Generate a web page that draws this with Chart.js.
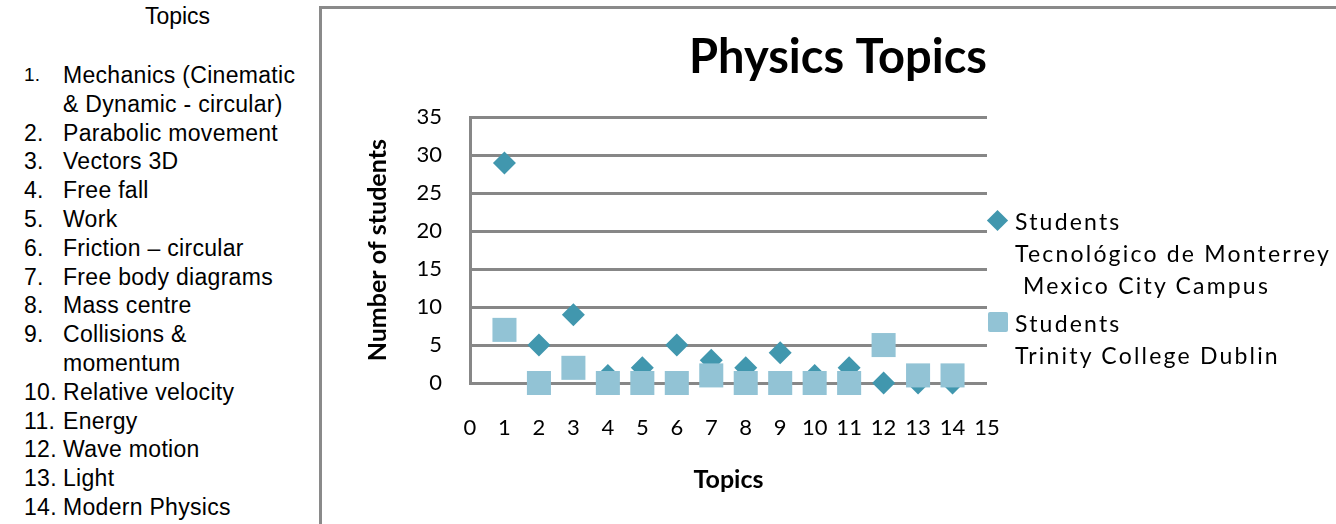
<!DOCTYPE html>
<html>
<head>
<meta charset="utf-8">
<script src="https://cdn.jsdelivr.net/npm/chart.js@4.4.1/dist/chart.umd.min.js"></script>
<style>
  body { margin: 0; background: #fff; }
  #wrap { position: relative; width: 1336px; height: 524px; overflow: hidden; }
  #frame { position: absolute; left: 319px; top: 6px; width: 1100px; height: 600px;
    border-left: 3px solid #8a8a8a; border-top: 3px solid #8a8a8a; }
  #topics { position: absolute; left: 0; top: 0; width: 320px; font-family: "Liberation Sans", Arial, sans-serif; font-size: 23px; color: #000; }
  #topics .head { position: absolute; left: 0; width: 355px; text-align: center; top: 3px; font-size: 23px; }
  #topics ol { position: absolute; left: 0; top: 61px; margin: 0; padding: 0; list-style: none; }
  #topics li { position: relative; padding-left: 63px; line-height: 28.8px; letter-spacing: 0.3px; white-space: nowrap; }
  #topics li span { position: absolute; left: 24px; }
  #topics li span.small { font-size: 19px; }
  #legend { position: absolute; left: 985px; top: 205px; font-family: Lato, sans-serif; font-size: 23px; line-height: 32px; color: #000; letter-spacing: 2.2px; white-space: nowrap; }
  .item { position: relative; padding-left: 30px; }
  .mk { position: absolute; }
  .dia { left: 5px; top: 8px; width: 15px; height: 15px; background: #4197ae; transform: rotate(45deg); }
  .sq { left: 3px; top: 5px; width: 20px; height: 20px; background: #92c3d5; border-radius: 2px; }
  canvas { position: absolute; left: 0; top: 0; }
</style>
</head>
<body>
<div id="wrap">
  <div id="frame"></div>
  <div id="topics">
    <div class="head">Topics</div>
    <ol id="topicList"></ol>
  </div>
  <canvas id="myChart" width="1336" height="524"></canvas>
  <div id="legend">
    <div class="item"><div class="mk dia"></div>Students<br>Tecnológico de Monterrey<br>&nbsp;Mexico City Campus</div>
    <div class="item" style="margin-top:6px"><div class="mk sq"></div>Students<br>Trinity College Dublin</div>
  </div>
</div>
<script>
const topicNames = [
  'Mechanics (Cinematic<br>& Dynamic - circular)',
  'Parabolic movement',
  'Vectors 3D',
  'Free fall',
  'Work',
  'Friction – circular',
  'Free body diagrams',
  'Mass centre',
  'Collisions &amp;<br>momentum',
  'Relative velocity',
  'Energy',
  'Wave motion',
  'Light',
  'Modern Physics'
];
const topicNumbers = [1, 2, 3, 4, 5, 6, 7, 8, 9, 10, 11, 12, 13, 14];
const monterrey = [29, 5, 9, 1, 2, 5, 3, 2, 4, 1, 2, 0, 0, 0];
const trinity = [7, 0, 2, 0, 0, 0, 1, 0, 0, 0, 0, 5, 1, 1];

const GREY = '#878787';
const DARK = '#4197ae';
const LIGHT = '#92c3d5';

const listEl = document.querySelector('#topicList');
topicNames.forEach((name, i) => {
  const li = document.createElement('li');
  const cls = i === 0 ? ' class="small"' : '';
  li.innerHTML = '<span' + cls + '>' + topicNumbers[i] + '.</span>' + name;
  listEl.appendChild(li);
});

const toPoints = (vals) => vals.map((v, i) => ({ x: topicNumbers[i], y: v }));

const ctx = document.getElementById('myChart');
const chart = new Chart(ctx, {
  type: 'scatter',
  data: {
    datasets: [
      {
        label: 'Students Tecnológico de Monterrey Mexico City Campus',
        data: toPoints(monterrey),
        pointStyle: 'rectRot',
        pointRadius: 11.5,
        backgroundColor: DARK,
        borderColor: DARK,
        borderWidth: 0,
        clip: false,
        order: 2
      },
      {
        label: 'Students Trinity College Dublin',
        data: toPoints(trinity),
        pointStyle: 'rect',
        pointRadius: 17,
        backgroundColor: LIGHT,
        borderColor: LIGHT,
        borderWidth: 0,
        clip: false,
        order: 1
      }
    ]
  },
  options: {
    responsive: false,
    animation: false,
    events: [],
    layout: { padding: { left: 350, right: 349, top: 30, bottom: 21 } },
    plugins: {
      legend: { display: false },
      tooltip: { enabled: false },
      title: {
        display: true,
        text: 'Physics Topics',
        align: 'end',
        fullSize: false,
        color: '#000',
        font: { family: 'Lato', size: 47, weight: 'bold' },
        padding: { top: 0, bottom: 31 }
      }
    },
    scales: {
      x: {
        type: 'linear',
        min: 0,
        max: 15,
        afterFit: (s) => { s.height = 120; },
        ticks: { stepSize: 1, padding: 32, color: '#000', font: { family: 'Lato', size: 22 } },
        grid: { display: false, drawTicks: false },
        border: { display: false },
        title: { display: true, text: 'Topics', color: '#000', font: { family: 'Lato', size: 25, weight: 'bold' }, padding: { top: 0, bottom: 8 } }
      },
      y: {
        min: 0,
        max: 35,
        afterFit: (s) => { s.width = 120; },
        ticks: { stepSize: 5, padding: 28, color: '#000', font: { family: 'Lato', size: 22 } },
        grid: { color: GREY, lineWidth: 3, drawTicks: false },
        border: { display: true, color: GREY, width: 3 },
        title: { display: true, text: 'Number of students', color: '#000', font: { family: 'Lato', size: 25, weight: 'bold' }, padding: { top: 13, bottom: 0 } }
      }
    }
  }
});
</script>
</body>
</html>
